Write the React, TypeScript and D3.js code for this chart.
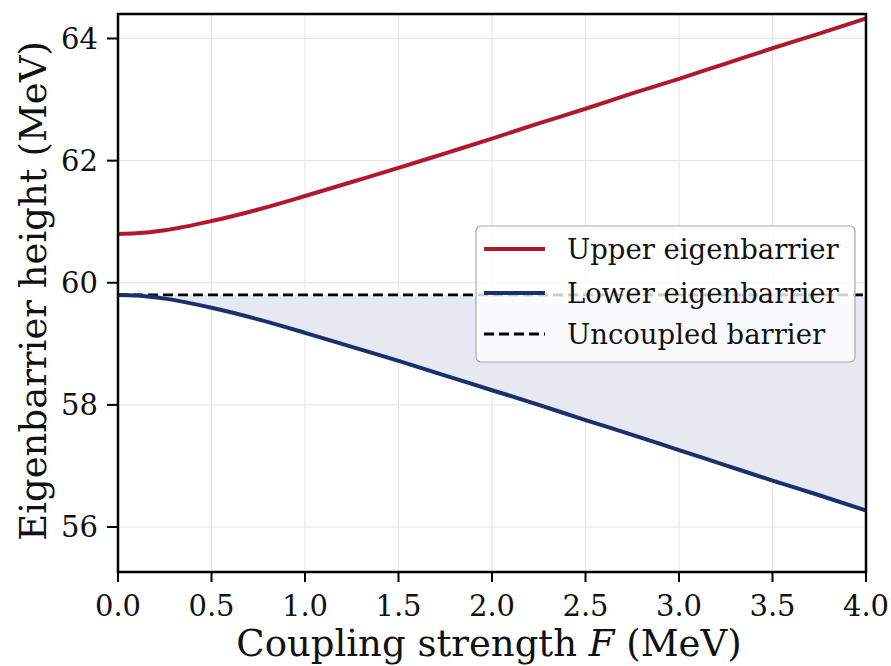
import React from "react";
import * as d3 from "d3";

const couplingF = [0, 0.1, 0.25, 0.5, 0.75, 1.0, 1.25, 1.5, 1.75, 2.0, 2.25, 2.5, 2.75, 3.0, 3.25, 3.5, 3.75, 4.0];
const upperBarrier = [60.8, 60.81, 60.86, 61.01, 61.2, 61.42, 61.65, 61.88, 62.12, 62.36, 62.61, 62.85, 63.1, 63.34, 63.59, 63.84, 64.08, 64.33];
const lowerBarrier = [59.8, 59.79, 59.74, 59.59, 59.4, 59.18, 58.95, 58.72, 58.48, 58.24, 58.0, 57.75, 57.51, 57.26, 57.01, 56.76, 56.52, 56.27];
const uncoupledBarrier = 59.8;
const xTicks = [0, 0.5, 1.0, 1.5, 2.0, 2.5, 3.0, 3.5, 4.0];
const yTicks = [56, 58, 60, 62, 64];
const legendLabels = ["Upper eigenbarrier", "Lower eigenbarrier", "Uncoupled barrier"];

const W = 891, H = 666;
const L = 118, R = 866, T = 14, B = 572;
const font = "'DejaVu Serif', serif";
const red = "#b2182b";
const navy = "#1b2f6e";

export default function App() {
  const x = d3.scaleLinear().domain([0, 4]).range([L, R]);
  const y = d3.scaleLinear().domain([56, 64]).range([527, 38.5]);
  const pts = couplingF.map((f, i) => ({ f, u: upperBarrier[i], l: lowerBarrier[i] }));
  const curve = d3.curveMonotoneX;
  const lineU = d3.line<any>().x(d => x(d.f)).y(d => y(d.u)).curve(curve);
  const lineL = d3.line<any>().x(d => x(d.f)).y(d => y(d.l)).curve(curve);
  const area = d3.area<any>().x(d => x(d.f)).y0(() => y(uncoupledBarrier)).y1(d => y(d.l)).curve(curve);

  const legX = 476, legY = 226, legW = 379, legH = 136;
  const rowY = [249, 293, 334];

  return (
    <svg width={W} height={H} style={{ position: "absolute", left: 0, top: 0, background: "#fff" }} fontFamily={font}>
      <defs>
        <clipPath id="plotclip"><rect x={L} y={T} width={R - L} height={B - T} /></clipPath>
      </defs>
      {xTicks.map(t => (
        <line key={"gx" + t} x1={x(t)} x2={x(t)} y1={T} y2={B} stroke="#e4e4e4" strokeWidth={1} />
      ))}
      {yTicks.map(t => (
        <line key={"gy" + t} x1={L} x2={R} y1={y(t)} y2={y(t)} stroke="#e4e4e4" strokeWidth={1} />
      ))}
      <g clipPath="url(#plotclip)">
        <path d={area(pts) || ""} fill="#e6e9f1" />
        <line x1={x(0)} x2={x(4)} y1={y(uncoupledBarrier)} y2={y(uncoupledBarrier)} stroke="#000" strokeWidth={2.8} strokeDasharray="10,5" />
        <path d={lineU(pts) || ""} fill="none" stroke={red} strokeWidth={4} />
        <path d={lineL(pts) || ""} fill="none" stroke={navy} strokeWidth={4} />
      </g>
      <rect x={L} y={T} width={R - L} height={B - T} fill="none" stroke="#000" strokeWidth={2.5} />
      {xTicks.map(t => (
        <g key={"xt" + t}>
          <line x1={x(t)} x2={x(t)} y1={B} y2={B + 10} stroke="#000" strokeWidth={2} />
          <text x={x(t)} y={616} textAnchor="middle" fontSize={29} fill="#111">{t.toFixed(1)}</text>
        </g>
      ))}
      {yTicks.map(t => (
        <g key={"yt" + t}>
          <line x1={L - 11} x2={L} y1={y(t)} y2={y(t)} stroke="#000" strokeWidth={2} />
          <text x={98} y={y(t) + 10} textAnchor="end" fontSize={29} fill="#111">{t}</text>
        </g>
      ))}
      <text x={489} y={656} textAnchor="middle" fontSize={37} fill="#111">
        Coupling strength <tspan fontStyle="italic">F</tspan> (MeV)
      </text>
      <text transform={`translate(46,${291}) rotate(-90)`} textAnchor="middle" fontSize={37} fill="#111">
        Eigenbarrier height (MeV)
      </text>
      <rect x={legX} y={legY} width={legW} height={legH} rx={5} fill="#fff" fillOpacity={0.8} stroke="#aaa" strokeWidth={1.2} />
      {legendLabels.map((lab, i) => (
        <g key={lab}>
          {i < 2 ? (
            <line x1={484} x2={545} y1={rowY[i]} y2={rowY[i]} stroke={i === 0 ? red : navy} strokeWidth={4} />
          ) : (
            <line x1={484} x2={545} y1={rowY[i]} y2={rowY[i]} stroke="#000" strokeWidth={2.8} strokeDasharray="10,5" />
          )}
          <text x={567} y={rowY[i] + 10} fontSize={27.5} fill="#111">{lab}</text>
        </g>
      ))}
    </svg>
  );
}
